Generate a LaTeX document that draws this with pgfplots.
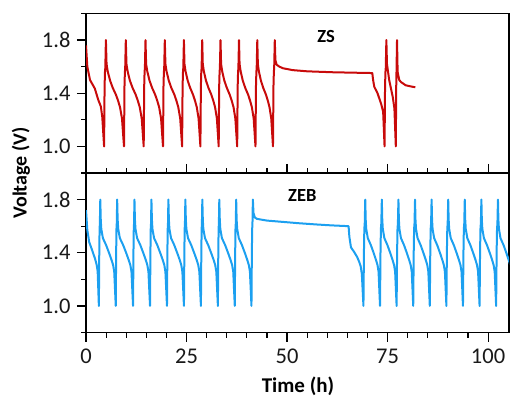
\documentclass[border=0pt]{standalone}
\usepackage{fontspec}
\setmainfont{Carlito}
\usepackage{pgfplots}
\pgfplotsset{compat=1.18}
\definecolor{zsred}{RGB}{200,10,10}
\definecolor{zebblue}{RGB}{28,160,240}
\begin{document}
\begin{tikzpicture}[x=1pt,y=1pt]
\useasboundingbox (0,0) rectangle (510,399);
\pgfplotsset{
 panel/.style={
  scale only axis, width=423pt, height=159.5pt,
  xmin=0, xmax=105.2, ymin=0.8, ymax=2.0,
  axis line style={line width=1.2pt},
  tick style={line width=1.2pt, black},
  major tick length=9pt, minor tick length=5pt,
  tick align=outside,
  ytick={1.0,1.4,1.8}, minor ytick={0.8,1.2,1.6,2.0},
  ytick pos=left,
  /pgf/number format/assume math mode=true,
  yticklabel style={/pgf/number format/fixed,/pgf/number format/fixed zerofill,/pgf/number format/precision=1, xshift=-3pt},
  xticklabel style={yshift=-4pt},
  tick label style={font=\fontsize{22.5}{26}\selectfont, text=black!90},
  every axis plot/.append style={line width=2pt, line join=round},
 }
}
\begin{axis}[panel, at={(86pt,226pt)}, anchor=south west, xtick=\empty]
\addplot[zsred] coordinates {
(0,1.76)(0.33,1.60)(1.0,1.50)(2.2,1.435)(3.05,1.35)(3.7,1.30)(4.05,1.22)(4.5,1.0)
(4.62,1.45)(4.72,1.56)(4.8,1.59)(4.95,1.8)
(5.11,1.62)(5.40,1.565)(5.99,1.495)(6.66,1.44)(7.43,1.39)(7.97,1.345)(8.46,1.295)(8.95,1.21)(9.45,1.0)
(9.57,1.45)(9.67,1.56)(9.75,1.59)(9.9,1.8)
(10.06,1.62)(10.35,1.565)(10.92,1.495)(11.59,1.44)(12.35,1.39)(12.88,1.345)(13.37,1.295)(13.86,1.21)(14.35,1.0)
(14.47,1.45)(14.57,1.56)(14.65,1.59)(14.8,1.8)
(14.95,1.62)(15.24,1.565)(15.80,1.495)(16.45,1.44)(17.19,1.39)(17.71,1.345)(18.19,1.295)(18.67,1.21)(19.15,1.0)
(19.27,1.45)(19.37,1.56)(19.45,1.59)(19.6,1.8)
(19.75,1.62)(20.03,1.565)(20.59,1.495)(21.23,1.44)(21.97,1.39)(22.48,1.345)(22.95,1.295)(23.43,1.21)(23.9,1.0)
(24.02,1.45)(24.12,1.56)(24.2,1.59)(24.35,1.8)
(24.49,1.62)(24.76,1.565)(25.29,1.495)(25.91,1.44)(26.61,1.39)(27.10,1.345)(27.55,1.295)(28.0,1.21)(28.45,1.0)
(28.57,1.45)(28.67,1.56)(28.75,1.59)(28.9,1.8)
(29.04,1.62)(29.31,1.565)(29.84,1.495)(30.46,1.44)(31.16,1.39)(31.65,1.345)(32.10,1.295)(32.55,1.21)(33.0,1.0)
(33.12,1.45)(33.22,1.56)(33.3,1.59)(33.45,1.8)
(33.60,1.62)(33.87,1.565)(34.40,1.495)(35.03,1.44)(35.73,1.39)(36.23,1.345)(36.69,1.295)(37.14,1.21)(37.6,1.0)
(37.72,1.45)(37.82,1.56)(37.9,1.59)(38.05,1.8)
(38.19,1.62)(38.46,1.565)(38.99,1.495)(39.61,1.44)(40.31,1.39)(40.80,1.345)(41.25,1.295)(41.70,1.21)(42.15,1.0)
(42.27,1.45)(42.37,1.56)(42.45,1.59)(42.6,1.8)
(42.74,1.62)(42.99,1.565)(43.50,1.495)(44.08,1.44)(44.75,1.39)(45.21,1.345)(45.64,1.295)(46.07,1.21)(46.5,1.0)
(46.62,1.45)(46.72,1.56)(46.8,1.59)(46.95,1.8)
(47.1,1.65)(47.4,1.615)(48.1,1.60)(49.0,1.588)(51.4,1.574)(55,1.565)(61.3,1.558)(66,1.555)(71.2,1.552)
(71.4,1.50)(71.7,1.448)(72.5,1.40)(73.4,1.32)(73.9,1.26)(74.25,1.0)(74.37,1.45)(74.47,1.56)(74.55,1.59)(74.7,1.8)
(74.85,1.62)(75.4,1.50)(76.3,1.37)(76.7,1.285)(77.05,1.0)(77.15,1.45)(77.22,1.56)(77.35,1.8)
(77.5,1.56)(77.9,1.50)(78.3,1.485)(79.5,1.46)(81.0,1.45)(81.9,1.445)
};
\node[font=\bfseries\fontsize{18.5}{22}\selectfont] at (axis cs:59.7,1.83) {ZS};
\end{axis}
\begin{axis}[panel, at={(86pt,66.5pt)}, anchor=south west,
  xtick={0,25,50,75,100}, minor x tick num=4, xtick pos=both, xticklabel pos=lower]
\addplot[zebblue] coordinates {
(0,1.72)(0.33,1.57)(0.8,1.48)(1.4,1.43)(2.23,1.357)(2.65,1.31)(2.9,1.26)(3.2,1.0)
(3.3,1.40)(3.38,1.58)(3.45,1.62)(3.55,1.8)
(3.67,1.65)(3.80,1.58)(4.20,1.51)(5.01,1.457)(5.78,1.395)(6.36,1.345)(6.75,1.307)(7.02,1.257)(7.4,1.0)
(7.5,1.40)(7.58,1.58)(7.65,1.62)(7.75,1.8)
(7.87,1.65)(8.01,1.58)(8.42,1.51)(9.25,1.457)(10.04,1.395)(10.63,1.345)(11.03,1.307)(11.31,1.257)(11.7,1.0)
(11.8,1.40)(11.88,1.58)(11.95,1.62)(12.05,1.8)
(12.17,1.65)(12.30,1.58)(12.71,1.51)(13.52,1.457)(14.29,1.395)(14.88,1.345)(15.26,1.307)(15.53,1.257)(15.92,1.0)
(16.02,1.40)(16.1,1.58)(16.17,1.62)(16.27,1.8)
(16.39,1.65)(16.52,1.58)(16.93,1.51)(17.74,1.457)(18.51,1.395)(19.10,1.345)(19.48,1.307)(19.75,1.257)(20.14,1.0)
(20.24,1.40)(20.32,1.58)(20.39,1.62)(20.49,1.8)
(20.61,1.65)(20.74,1.58)(21.15,1.51)(21.96,1.457)(22.73,1.395)(23.32,1.345)(23.70,1.307)(23.97,1.257)(24.36,1.0)
(24.46,1.40)(24.54,1.58)(24.61,1.62)(24.71,1.8)
(24.83,1.65)(24.96,1.58)(25.37,1.51)(26.18,1.457)(26.95,1.395)(27.54,1.345)(27.92,1.307)(28.19,1.257)(28.58,1.0)
(28.68,1.40)(28.76,1.58)(28.83,1.62)(28.93,1.8)
(29.05,1.65)(29.18,1.58)(29.59,1.51)(30.40,1.457)(31.17,1.395)(31.76,1.345)(32.14,1.307)(32.41,1.257)(32.8,1.0)
(32.9,1.40)(32.98,1.58)(33.05,1.62)(33.15,1.8)
(33.27,1.65)(33.40,1.58)(33.80,1.51)(34.61,1.457)(35.38,1.395)(35.96,1.345)(36.35,1.307)(36.62,1.257)(37.0,1.0)
(37.1,1.40)(37.18,1.58)(37.25,1.62)(37.35,1.8)
(37.46,1.65)(37.60,1.58)(38.00,1.51)(38.79,1.457)(39.55,1.395)(40.12,1.345)(40.50,1.307)(40.77,1.257)(41.15,1.0)
(41.25,1.40)(41.33,1.58)(41.4,1.62)(41.5,1.8)
(41.65,1.70)(42.0,1.665)(42.5,1.655)(45,1.642)(49,1.632)(53,1.622)(57.2,1.613)(61,1.606)(65.3,1.60)
(65.5,1.52)(65.9,1.44)(66.6,1.41)(67.4,1.37)(67.9,1.335)(68.3,1.30)(68.6,1.24)(69.0,1.0)
(69.12,1.40)(69.22,1.58)(69.32,1.62)(69.45,1.8)
(69.56,1.65)(69.69,1.58)(70.08,1.51)(70.85,1.457)(71.58,1.395)(72.13,1.345)(72.50,1.307)(72.76,1.257)(73.12,1.0)
(73.24,1.40)(73.34,1.58)(73.44,1.62)(73.57,1.8)
(73.68,1.65)(73.81,1.58)(74.20,1.51)(74.97,1.457)(75.70,1.395)(76.25,1.345)(76.62,1.307)(76.88,1.257)(77.25,1.0)
(77.37,1.40)(77.47,1.58)(77.57,1.62)(77.7,1.8)
(77.81,1.65)(77.94,1.58)(78.33,1.51)(79.10,1.457)(79.83,1.395)(80.38,1.345)(80.75,1.307)(81.01,1.257)(81.38,1.0)
(81.5,1.40)(81.6,1.58)(81.7,1.62)(81.83,1.8)
(81.94,1.65)(82.07,1.58)(82.46,1.51)(83.23,1.457)(83.96,1.395)(84.51,1.345)(84.88,1.307)(85.14,1.257)(85.5,1.0)
(85.62,1.40)(85.72,1.58)(85.82,1.62)(85.95,1.8)
(86.06,1.65)(86.19,1.58)(86.58,1.51)(87.35,1.457)(88.08,1.395)(88.63,1.345)(89.0,1.307)(89.26,1.257)(89.63,1.0)
(89.75,1.40)(89.85,1.58)(89.95,1.62)(90.08,1.8)
(90.19,1.65)(90.32,1.58)(90.71,1.51)(91.48,1.457)(92.21,1.395)(92.76,1.345)(93.13,1.307)(93.39,1.257)(93.75,1.0)
(93.87,1.40)(93.97,1.58)(94.07,1.62)(94.2,1.8)
(94.31,1.65)(94.44,1.58)(94.83,1.51)(95.60,1.457)(96.33,1.395)(96.88,1.345)(97.25,1.307)(97.51,1.257)(97.88,1.0)
(98.0,1.40)(98.1,1.58)(98.2,1.62)(98.33,1.8)
(98.44,1.65)(98.57,1.58)(98.96,1.51)(99.73,1.457)(100.46,1.395)(101.01,1.345)(101.38,1.307)(101.64,1.257)(102.0,1.0)
(102.12,1.40)(102.22,1.58)(102.32,1.62)(102.45,1.8)
(102.56,1.65)(102.69,1.58)(103.08,1.51)(103.85,1.457)(104.58,1.395)(105.13,1.345)(105.5,1.31)
};
\node[font=\bfseries\fontsize{18.5}{22}\selectfont] at (axis cs:53.8,1.83) {ZEB};
\end{axis}
\node[rotate=90, font=\bfseries\fontsize{20}{24}\selectfont] at (21,226) {Voltage (V)};
\node[anchor=base, font=\bfseries\fontsize{21}{25}\selectfont] at (298,7) {Time (h)};
\end{tikzpicture}
\end{document}
